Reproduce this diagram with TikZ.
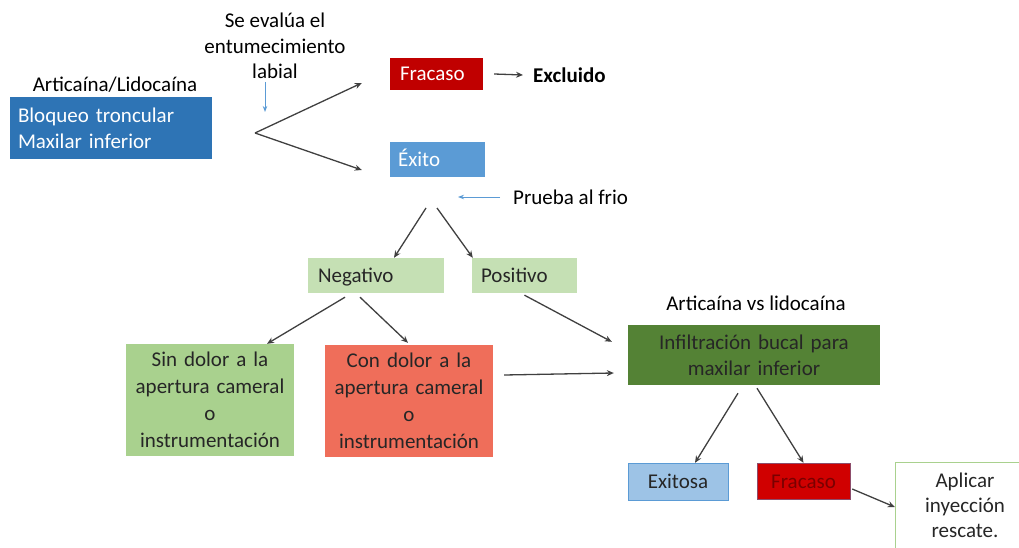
\documentclass[tikz,border=0pt]{standalone}
\usepackage{fontspec}
\setmainfont{Carlito}
\usetikzlibrary{arrows.meta}
\definecolor{azul}{HTML}{2E74B5}
\definecolor{celeste}{HTML}{5B9BD5}
\definecolor{celestito}{HTML}{9DC3E6}
\definecolor{rojo}{HTML}{C00000}
\definecolor{rojovivo}{HTML}{D00000}
\definecolor{rojotexto}{HTML}{7A0000}
\definecolor{verdeclaro}{HTML}{C5E0B4}
\definecolor{verde}{HTML}{A9D18E}
\definecolor{verdeoscuro}{HTML}{548235}
\definecolor{salmon}{HTML}{EF6E5A}
\definecolor{texto}{HTML}{262626}
\begin{document}
\begin{tikzpicture}[x=1pt, y=-1pt,
    caja/.style={inner sep=0pt, font=\fontsize{21}{26}\selectfont},
    linea/.style={caja, text height=16pt, text depth=2pt},
    nota/.style={inner sep=0pt, font=\fontsize{21}{25.5}\selectfont},
    flecha/.style={-{Stealth[length=7pt,width=6pt]}, line width=1.3pt, black!75},
    aviso/.style={-{Stealth[length=6pt,width=4.5pt]}, line width=1pt, celeste}]
  \clip (0,0) rectangle (1019,548);

  % cajas
  \node[caja, fill=azul, text=white, text width=186pt, inner xsep=8pt, minimum height=62pt, align=left] (bloqueo) at (111,128) {Bloqueo troncular\\Maxilar inferior};
  \node[linea, fill=rojo, text=white, text width=73pt, inner xsep=10pt, minimum height=32pt, align=left] (fracaso) at (436.5,74) {Fracaso};
  \node[linea, fill=celeste, text=white, text width=79pt, inner xsep=8pt, minimum height=35pt, align=left] (exito) at (437.5,159.5) {Éxito};
  \node[linea, fill=verdeclaro, text=texto, text width=116pt, inner xsep=10pt, minimum height=35pt, align=left] (negativo) at (376,275.5) {Negativo};
  \node[linea, fill=verdeclaro, text=texto, text width=87pt, inner xsep=9pt, minimum height=35pt, align=left] (positivo) at (524.5,275.5) {Positivo};
  \node[caja, fill=verde, text=texto, text width=168pt, minimum height=112pt, align=center, font=\fontsize{21}{27}\selectfont] (sindolor) at (210,400) {Sin dolor a la\\apertura cameral\\o\\instrumentación};
  \node[caja, fill=salmon, text=texto, text width=168pt, minimum height=112pt, align=center, font=\fontsize{21}{27}\selectfont] (condolor) at (409,401) {Con dolor a la\\apertura cameral\\o\\instrumentación};
  \node[caja, fill=verdeoscuro, text=black!85, text width=252pt, minimum height=60pt, align=center] (infiltracion) at (754,355) {Infiltración bucal para\\maxilar inferior};
  \node[linea, fill=celestito, draw=celeste, text=texto, text width=100pt, minimum height=37pt, align=center] (exitosa) at (678,481.5) {Exitosa};
  \node[linea, fill=rojovivo, draw=celeste!50!rojo, text=rojotexto, text width=81pt, inner xsep=6pt, minimum height=36pt, align=center] (fracasob) at (803.5,481) {Fracaso};
  \node[caja, fill=white, draw=verde, text=texto, text width=140pt, minimum height=86pt, align=center, font=\fontsize{21}{25}\selectfont] (aplicar) at (965,505) {Aplicar\\inyección\\rescate.};

  % textos sueltos
  \node[nota] (articaina) at (115,85) {Articaína/Lidocaína};
  \node[nota, align=center] (evalua) at (275,46) {Se evalúa el\\entumecimiento\\labial};
  \node[nota, anchor=west, font=\fontsize{21}{25}\selectfont\bfseries] (excluido) at (533,75) {Excluido};
  \node[nota, anchor=west] (prueba) at (513,197) {Prueba al frio};
  \node[nota] (versus) at (756,303) {Articaína vs lidocaína};

  \coordinate (bifurca) at (255,133);
  \coordinate (labio) at (265,82);
  \coordinate (frioA) at (426,208);
  \coordinate (frioB) at (437,208);

  % flechas
  \draw[flecha] (bifurca) -- ([xshift=-28pt,yshift=-9pt]fracaso.west);
  \draw[flecha] (bifurca) -- ([xshift=-28pt,yshift=-10.5pt]exito.west);
  \draw[flecha] ([xshift=11pt]fracaso.east) -- ([xshift=-10pt]excluido.west);
  \draw[aviso] (labio) -- ++(0,30);
  \draw[aviso] ([xshift=-13pt]prueba.west) -- ++(-42,0);
  \draw[flecha] (frioA) -- ([xshift=18pt]negativo.north);
  \draw[flecha] (frioB) -- ([xshift=1pt]positivo.north west);
  \draw[flecha] ([xshift=-31pt,yshift=-4pt]negativo.south) -- ([xshift=57pt]sindolor.north);
  \draw[flecha] ([xshift=-16pt,yshift=-4pt]negativo.south) -- ([xshift=-1pt,yshift=2pt]condolor.north);
  \draw[flecha] ([yshift=-2pt]positivo.south) -- ([xshift=-16pt,yshift=-17pt]infiltracion.north west);
  \draw[flecha] ([xshift=11pt,yshift=26pt]condolor.east) -- ([xshift=-14pt,yshift=-18pt]infiltracion.west);
  \draw[flecha] ([xshift=-16pt,yshift=-8pt]infiltracion.south) -- ([xshift=17pt]exitosa.north);
  \draw[flecha] ([xshift=3pt,yshift=-3pt]infiltracion.south) -- (fracasob.north);
  \draw[flecha] ([xshift=2pt,yshift=-8pt]fracasob.east) -- ([yshift=-2pt]aplicar.west);
\end{tikzpicture}
\end{document}
